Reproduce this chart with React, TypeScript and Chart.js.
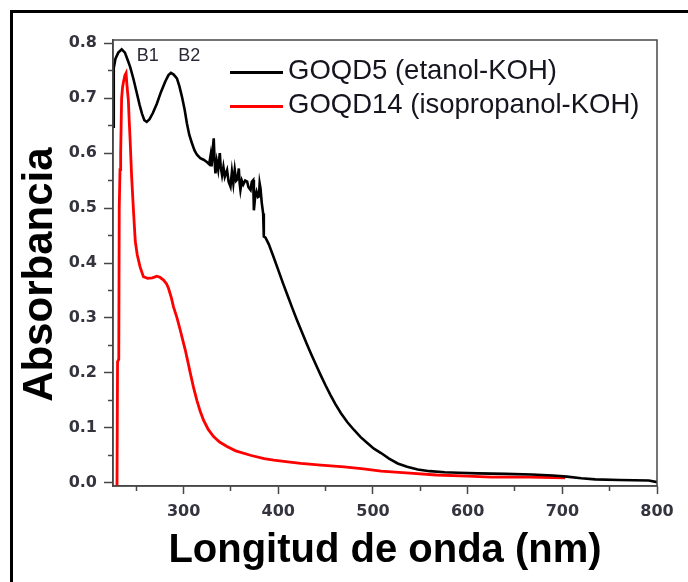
import React, { useEffect, useRef } from "react";
import { Chart, registerables } from "chart.js";

Chart.register(...registerables);

// ---- Data ----
const goqd5Wavelength = [
  225.4, 226.2, 228, 231, 234.6, 238, 241, 243.5, 247, 250.6, 253.5, 256, 258.5, 261, 264, 267.5, 271.7, 276,
  280.5, 284, 286.6, 289.5, 292.9, 295.5, 298.2, 301, 303.5, 306, 308.8, 311.5, 314.1, 317.6, 321.1, 324.5, 327,
  328.5, 329.5, 331, 331.8, 332.6, 333.6, 335, 336.5, 338.2, 339.2, 340.6, 342, 343.5, 345.9, 347.5, 349.5, 351,
  352.5, 354, 355.5, 357, 358.3, 359.2, 360, 361.5, 363, 365, 367.1, 368.5, 370.7, 372, 373.5, 374.2, 375.5, 377,
  378.5, 379.5, 380.3, 381.2, 382.5, 384, 384.7, 386.5, 390, 395, 400, 405, 410, 415, 420, 425, 430, 435, 440,
  445, 450, 455, 460, 466, 473, 480, 487, 494.3, 501, 508.5, 517, 526.1, 536, 547.3, 560, 575.7, 590, 611, 640,
  667.6, 690, 704.7, 720, 734.8, 760, 791.4, 800,
];
const goqd5Absorbance = [
  0.648, 0.755, 0.772, 0.783, 0.789, 0.783, 0.769, 0.757, 0.735, 0.709, 0.688, 0.672, 0.66, 0.657, 0.662, 0.673,
  0.69, 0.711, 0.73, 0.742, 0.746, 0.743, 0.736, 0.722, 0.703, 0.68, 0.654, 0.633, 0.618, 0.605, 0.597, 0.591,
  0.588, 0.584, 0.58, 0.596, 0.576, 0.612, 0.627, 0.59, 0.563, 0.585, 0.57, 0.6, 0.575, 0.56, 0.575, 0.557, 0.569,
  0.548, 0.539, 0.566, 0.545, 0.57, 0.55, 0.553, 0.572, 0.545, 0.533, 0.55, 0.543, 0.55, 0.548, 0.538, 0.533,
  0.548, 0.551, 0.496, 0.52, 0.53, 0.52, 0.521, 0.545, 0.536, 0.51, 0.49, 0.448, 0.446, 0.434, 0.411, 0.387,
  0.363, 0.34, 0.317, 0.295, 0.274, 0.253, 0.233, 0.214, 0.195, 0.177, 0.16, 0.144, 0.127, 0.11, 0.096, 0.083,
  0.072, 0.062, 0.054, 0.044, 0.035, 0.029, 0.024, 0.021, 0.019, 0.018, 0.017, 0.016, 0.015, 0.013, 0.011, 0.008,
  0.006, 0.005, 0.004, 0.001,
];

const goqd14Wavelength = [
  229.6, 230.2, 231.5, 232, 232.8, 233.5, 234.5, 235.5, 236.5, 238, 239.2, 240.3, 241.6, 242.5, 243.5, 245, 247,
  248.9, 251, 254, 257.5, 262, 267, 271.7, 275, 278.8, 282, 284, 287, 289.3, 293, 296.4, 299, 301.7, 304.5, 307,
  310.5, 314, 317.5, 321, 326, 331.6, 338, 345.8, 355, 370.5, 385, 395.2, 410, 423.7, 445, 469.6, 490, 508.5, 535,
  567, 600, 625, 665, 703,
];
const goqd14Absorbance = [
  -0.02, 0.22, 0.225, 0.5, 0.57, 0.6, 0.7, 0.72, 0.73, 0.742, 0.746, 0.72, 0.697, 0.66, 0.624, 0.56, 0.496, 0.44,
  0.415, 0.393, 0.375, 0.372, 0.373, 0.376, 0.374, 0.369, 0.362, 0.354, 0.337, 0.32, 0.3, 0.278, 0.26, 0.242,
  0.22, 0.2, 0.173, 0.15, 0.13, 0.114, 0.097, 0.084, 0.074, 0.066, 0.058, 0.05, 0.044, 0.041, 0.038, 0.035, 0.032,
  0.029, 0.025, 0.021, 0.018, 0.014, 0.012, 0.01, 0.01, 0.009,
];

const seriesLabels = ["GOQD5 (etanol-KOH)", "GOQD14 (isopropanol-KOH)"];
const seriesColors = ["#000000", "#ff0000"];

const xMajorTicks = [300, 400, 500, 600, 700, 800];
const xMinorTicks = [250, 350, 450, 550, 650, 750];
const yMajorTicks = [0, 0.1, 0.2, 0.3, 0.4, 0.5, 0.6, 0.7, 0.8];
const yMinorTicks = [0.05, 0.15, 0.25, 0.35, 0.45, 0.55, 0.65, 0.75];

const peakLabels = ["B1", "B2"];
const peakLabelX = [262, 306];
const peakLabelY = [0.776, 0.776];

const X_MIN = 225.4;
const X_MAX = 800;
const Y_MIN = -0.006;
const Y_MAX = 0.806;

const AXIS_COLOR = "#474747";
const TICK_TEXT = "#34343f";

const toPoints = (xs: number[], ys: number[]) => xs.map((x, i) => ({ x, y: ys[i] }));

const decorPlugin = {
  id: "decor",
  beforeDraw(chart: any) {
    const ctx = chart.ctx;
    ctx.save();
    ctx.fillStyle = "#000";
    ctx.fillRect(10, 10, chart.width - 10, 3);
    ctx.fillRect(10, 10, 3, chart.height - 10);
    ctx.restore();
  },
  afterDatasetsDraw(chart: any) {
    const { ctx, chartArea, scales } = chart;
    ctx.save();
    // plot frame
    ctx.strokeStyle = AXIS_COLOR;
    ctx.lineWidth = 1.5;
    ctx.strokeRect(chartArea.left, chartArea.top, chartArea.right - chartArea.left, chartArea.bottom - chartArea.top);

    // legend
    chart.data.datasets.forEach((ds: any, i: number) => {
      const y = chartArea.top + 32.5 + i * 34;
      ctx.strokeStyle = ds.borderColor;
      ctx.lineWidth = 3;
      ctx.beginPath();
      ctx.moveTo(chartArea.left + 117, y);
      ctx.lineTo(chartArea.left + 170, y);
      ctx.stroke();
      ctx.fillStyle = "#15151f";
      ctx.font = "27.5px 'Liberation Sans', Arial, sans-serif";
      ctx.textAlign = "left";
      ctx.textBaseline = "middle";
      ctx.fillText(ds.label, chartArea.left + 175, y - 1);
    });

    // peak labels
    ctx.fillStyle = "#2a2a36";
    ctx.font = "18px 'Liberation Sans', Arial, sans-serif";
    ctx.textAlign = "center";
    ctx.textBaseline = "middle";
    peakLabels.forEach((t, i) => {
      ctx.fillText(t, scales.x.getPixelForValue(peakLabelX[i]), scales.y.getPixelForValue(peakLabelY[i]));
    });
    ctx.restore();
  },
};

export default function App() {
  const ref = useRef<HTMLCanvasElement | null>(null);

  useEffect(() => {
    if (!ref.current) return;
    const tickFont = { family: "'DejaVu Sans', sans-serif", size: 16, weight: "bold" as const };
    const chart = new Chart(ref.current, {
      type: "line",
      data: {
        datasets: [
          {
            label: seriesLabels[0],
            data: toPoints(goqd5Wavelength, goqd5Absorbance),
            borderColor: seriesColors[0],
            backgroundColor: seriesColors[0],
            borderWidth: 2.6,
            pointRadius: 0,
            tension: 0,
            xAxisID: "x",
            yAxisID: "y",
          },
          {
            label: seriesLabels[1],
            data: toPoints(goqd14Wavelength, goqd14Absorbance),
            borderColor: seriesColors[1],
            backgroundColor: seriesColors[1],
            borderWidth: 2.8,
            pointRadius: 0,
            tension: 0,
            xAxisID: "x",
            yAxisID: "y",
          },
        ],
      },
      options: {
        responsive: false,
        animation: false,
        devicePixelRatio: 1,
        layout: { padding: { top: 40, right: 31, left: 0, bottom: 0 } },
        plugins: {
          legend: { display: false },
          tooltip: { enabled: false },
        },
        scales: {
          x: {
            type: "linear",
            position: "bottom",
            min: X_MIN,
            max: X_MAX,
            bounds: "data",
            weight: 0,
            afterBuildTicks: (s: any) => {
              s.ticks = xMajorTicks.map((v) => ({ value: v }));
            },
            afterFit: (s: any) => {
              s.height = 96;
            },
            grid: {
              drawOnChartArea: false,
              drawTicks: true,
              tickLength: 8,
              tickColor: AXIS_COLOR,
              tickWidth: 1.5,
            },
            border: { display: true, color: AXIS_COLOR, width: 1.5 },
            ticks: {
              autoSkip: false,
              maxRotation: 0,
              padding: 8,
              color: TICK_TEXT,
              font: tickFont,
              callback: (v: any) => String(v),
            },
            title: {
              display: true,
              text: "Longitud de onda (nm)",
              color: "#000",
              font: { family: "'Liberation Sans', Arial, sans-serif", size: 40, weight: "bold", lineHeight: 1.2 },
              padding: { top: 0, bottom: 7 },
            },
          },
          xMinor: {
            type: "linear",
            axis: "x",
            position: "bottom",
            min: X_MIN,
            max: X_MAX,
            bounds: "data",
            weight: -1,
            afterBuildTicks: (s: any) => {
              s.ticks = xMinorTicks.map((v) => ({ value: v }));
            },
            afterFit: (s: any) => {
              s.height = 0;
            },
            grid: {
              drawOnChartArea: false,
              drawTicks: true,
              tickLength: 5,
              tickColor: AXIS_COLOR,
              tickWidth: 1.5,
            },
            border: { display: false },
            ticks: { display: false },
          },
          y: {
            type: "linear",
            position: "left",
            min: Y_MIN,
            max: Y_MAX,
            bounds: "data",
            weight: 0,
            afterBuildTicks: (s: any) => {
              s.ticks = yMajorTicks.map((v) => ({ value: v }));
            },
            afterFit: (s: any) => {
              s.width = 113;
            },
            grid: {
              drawOnChartArea: false,
              drawTicks: true,
              tickLength: 9,
              tickColor: AXIS_COLOR,
              tickWidth: 1.5,
            },
            border: { display: true, color: AXIS_COLOR, width: 1.5 },
            ticks: {
              autoSkip: false,
              padding: 7,
              color: TICK_TEXT,
              font: tickFont,
              callback: (v: any) => Number(v).toFixed(1),
            },
            title: {
              display: true,
              text: "Absorbancia  ",
              color: "#000",
              font: { family: "'Liberation Sans', Arial, sans-serif", size: 42, weight: "bold", lineHeight: 1.2 },
              padding: { top: 15, bottom: 0 },
            },
          },
          yMinor: {
            type: "linear",
            axis: "y",
            position: "left",
            min: Y_MIN,
            max: Y_MAX,
            bounds: "data",
            weight: -1,
            afterBuildTicks: (s: any) => {
              s.ticks = yMinorTicks.map((v) => ({ value: v }));
            },
            afterFit: (s: any) => {
              s.width = 0;
            },
            grid: {
              drawOnChartArea: false,
              drawTicks: true,
              tickLength: 5,
              tickColor: AXIS_COLOR,
              tickWidth: 1.5,
            },
            border: { display: false },
            ticks: { display: false },
          },
        },
      } as any,
      plugins: [decorPlugin],
    });
    return () => chart.destroy();
  }, []);

  return (
    <div style={{ position: "fixed", left: 0, top: 0, width: 688, height: 582, background: "#fff" }}>
      <canvas ref={ref} width={688} height={582} style={{ display: "block", width: 688, height: 582 }} />
    </div>
  );
}
